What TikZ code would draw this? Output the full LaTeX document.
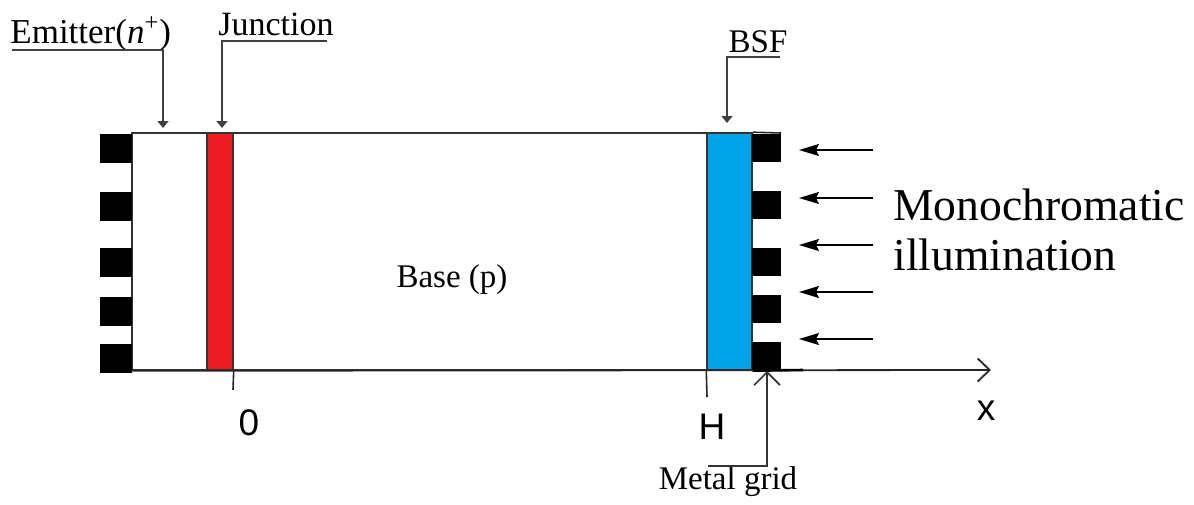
\documentclass[tikz,border=0pt]{standalone}
\usepackage{fontspec}
\setmainfont{Liberation Serif}
\newfontfamily\sansf{Liberation Sans}
\usetikzlibrary{arrows.meta}
\definecolor{junred}{RGB}{237,28,36}
\definecolor{bsfblue}{RGB}{0,162,232}
\tikzset{
  outline/.style={draw=black!80, line width=0.8pt, inner sep=0, minimum width=310pt, minimum height=118.5pt},
  band/.style={draw=black!80, line width=0.7pt, inner sep=0, minimum height=118.5pt},
  lgrid/.style={fill=black, inner sep=0, minimum width=16pt, minimum height=14.5pt},
  rgrid/.style={fill=black, inner sep=0, minimum width=14.5pt, minimum height=14pt},
  lbl/.style={font=\fontsize{16.5}{18}\selectfont, inner sep=0, anchor=base},
  big/.style={font=\fontsize{22.8}{25}\selectfont, inner sep=0, anchor=base west},
  axlbl/.style={font=\sansf\fontsize{18.5}{20}\selectfont, inner sep=0, anchor=base},
  ptr/.style={draw=black!75, line width=0.8pt, -{Triangle[length=3.5pt,width=5.5pt]}},
  light/.style={draw=black, line width=0.9pt, -{Stealth[length=10pt,width=6pt,inset=1.5pt]}},
  axis/.style={draw=black!85, line width=0.9pt, -{Straight Barb[length=6pt,width=11.5pt]}},
  tick/.style={draw=black!85, line width=0.8pt}
}
\begin{document}
\begin{tikzpicture}[x=0.5pt,y=-0.5pt]
\useasboundingbox (0,0) rectangle (1194,504);

% cell body
\node[outline] (cell) at (442,251.5) {};
\draw[tick] (cell.north east) -- (781,133);
\node[band, fill=junred, minimum width=13pt] (jun) at (220,251.5) {};
\node[band, fill=bsfblue, minimum width=22.5pt] (bsf) at (729.5,251.5) {};

% left metal grid
\node[lgrid] (l1) at (116,148.5) {};
\node[lgrid] (l2) at (116,206.5) {};
\node[lgrid] (l3) at (116,262.5) {};
\node[lgrid] (l4) at (116,311) {};
\node[lgrid] (l5) at (116,358.5) {};

% right metal grid
\node[rgrid] (r1) at (766.5,148) {};
\node[rgrid] (r2) at (766.5,205) {};
\node[rgrid] (r3) at (766.5,261.5) {};
\node[rgrid] (r4) at (766.5,308.5) {};
\node[rgrid] (r5) at (766.5,356) {};

% axis
\coordinate (xend) at (991,370);
\draw[axis] (cell.south west) -- (xend);
\draw[line width=1.3pt] (bsf.south east) -- (803,370);
\coordinate (t0) at (233,390);
\coordinate (tH) at (707,397);
\draw[tick] (jun.south east) -- (t0);
\draw[tick] (bsf.south west) -- (tH);
\node[axlbl] (zero) at (249,435) {0};
\node[axlbl] (H) at (712,439) {H};
\node[axlbl] (xl) at (986,420) {x};

% base label
\node[lbl] (base) at (452,287) {Base (p)};

% illumination
\foreach \i/\y in {1/150,2/198,3/245,4/292,5/339}{
  \coordinate (s\i) at (873,\y);
  \coordinate (e\i) at (799,\y);
  \draw[light] (s\i) -- (e\i);
}
\node[big] (mono) at (893,220) {Monochromatic};
\node[big] (illu) at (893,270) {illumination};

% top labels
\node[lbl, anchor=base west, font=\fontsize{17.5}{19}\selectfont] (emlab) at (10,43) {Emitter(\textit{n}\textsuperscript{+})};
\coordinate (emU) at (12,50);
\coordinate (emT) at (163,128);
\draw[ptr] (emU) -| (emT);

\node[lbl, anchor=base west, font=\fontsize{17}{19}\selectfont] (junlab) at (218,35) {Junction};
\coordinate (junU) at (327,41);
\coordinate (junT) at (222,128);
\draw[ptr] (junU) -| (junT);

\node[lbl] (bsflab) at (758,52) {BSF};
\coordinate (bsfU) at (780,57);
\coordinate (bsfT) at (727,123);
\draw[ptr] (bsfU) -| (bsfT);

% metal grid label
\node[lbl] (mglab) at (728,489) {Metal grid};
\coordinate (mgL) at (708,466);
\coordinate (mgT) at (767,371);
\draw[draw=black!80, line width=0.8pt, -{Straight Barb[length=6.5pt,width=13pt]}] (mgL) -| (mgT);
\end{tikzpicture}
\end{document}
